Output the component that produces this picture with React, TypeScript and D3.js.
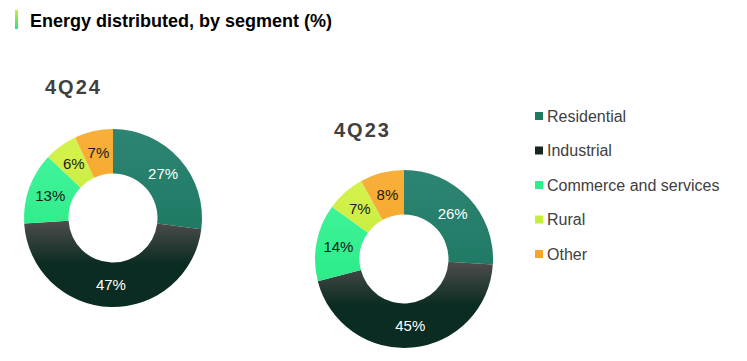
import React from 'react';
import * as d3 from 'd3';

const segments = ['Residential', 'Industrial', 'Commerce and services', 'Rural', 'Other'];
const values4Q24 = [27, 47, 13, 6, 7];
const values4Q23 = [26, 45, 14, 7, 8];
const periods = ['4Q24', '4Q23'];

// vertical gradient for each slice: colour at top, colour at bottom
const topColors = ['#2e8472', '#4c4c4c', '#48f6a0', '#d6f34e', '#f8b03a'];
const bottomColors = ['#13735a', '#0b2c22', '#1be67a', '#b8e42c', '#f19a18'];
const legendColors = ['#1f7a62', '#13261f', '#2ef08a', '#c6ef3c', '#f5a62a'];
const labelColors = ['#ffffff', '#ffffff', '#1a1a1a', '#1a1a1a', '#1a1a1a'];

const outerR = 89;
const innerR = 44.5;

interface DonutProps {
  values: number[];
  cx: number;
  cy: number;
  title: string;
  titleX: number;
  titleY: number;
  id: string;
}

const Donut: React.FC<DonutProps> = ({ values, cx, cy, title, titleX, titleY, id }) => {
  const pie = d3.pie<number>().sort(null).value((d) => d);
  const arc = d3.arc<d3.PieArcDatum<number>>().innerRadius(innerR).outerRadius(outerR);
  const arcs = pie(values);
  return (
    <g>
      <text x={titleX} y={titleY} fontSize={20} fontWeight="bold" fill="#404040" letterSpacing={2}>
        {title}
      </text>
      <g transform={`translate(${cx},${cy})`}>
        <defs>
          {arcs.map((_, i) => {
            // industrial fades from grey to dark green just below the hole
            const y1 = i === 1 ? 4 : -outerR;
            const y2 = i === 1 ? 46 : outerR;
            return (
              <linearGradient key={i} id={`${id}-g${i}`} gradientUnits="userSpaceOnUse" x1={0} y1={y1} x2={0} y2={y2}>
                <stop offset="0%" stopColor={topColors[i]} />
                <stop offset="100%" stopColor={bottomColors[i]} />
              </linearGradient>
            );
          })}
        </defs>
        {arcs.map((a, i) => (
          <path key={i} d={arc(a) || ''} fill={`url(#${id}-g${i})`} />
        ))}
        {arcs.map((a, i) => {
          const [x, y] = arc.centroid(a);
          return (
            <text key={i} x={x} y={y} dy="0.35em" textAnchor="middle" fontSize={15} fill={labelColors[i]}>
              {values[i]}%
            </text>
          );
        })}
      </g>
    </g>
  );
};

export default function App() {
  const legendY = d3.scalePoint<string>().domain(segments).range([116, 254]);
  return (
    <svg width={747} height={361} style={{ position: 'absolute', left: 0, top: 0, fontFamily: 'Arial, "Liberation Sans", sans-serif' }}>
      <defs>
        <linearGradient id="titleBar" x1="0" y1="0" x2="0" y2="1">
          <stop offset="0%" stopColor="#c8f03c" />
          <stop offset="100%" stopColor="#2ee07a" />
        </linearGradient>
      </defs>
      <rect width={747} height={361} fill="#ffffff" />
      <rect x={15} y={10} width={3} height={19} fill="url(#titleBar)" />
      <text x={30} y={27} fontSize={18} fontWeight="bold" fill="#000000">
        Energy distributed, by segment (%)
      </text>
      <Donut values={values4Q24} cx={113} cy={218} title={periods[0]} titleX={45} titleY={94} id="d24" />
      <Donut values={values4Q23} cx={404} cy={259} title={periods[1]} titleX={334} titleY={137} id="d23" />
      {segments.map((s, i) => (
        <g key={s} transform={`translate(535,${legendY(s)})`}>
          <rect x={0} y={-4} width={8} height={8} fill={legendColors[i]} />
          <text x={12} y={0} dy="0.35em" fontSize={16} fill="#404040">
            {s}
          </text>
        </g>
      ))}
    </svg>
  );
}
